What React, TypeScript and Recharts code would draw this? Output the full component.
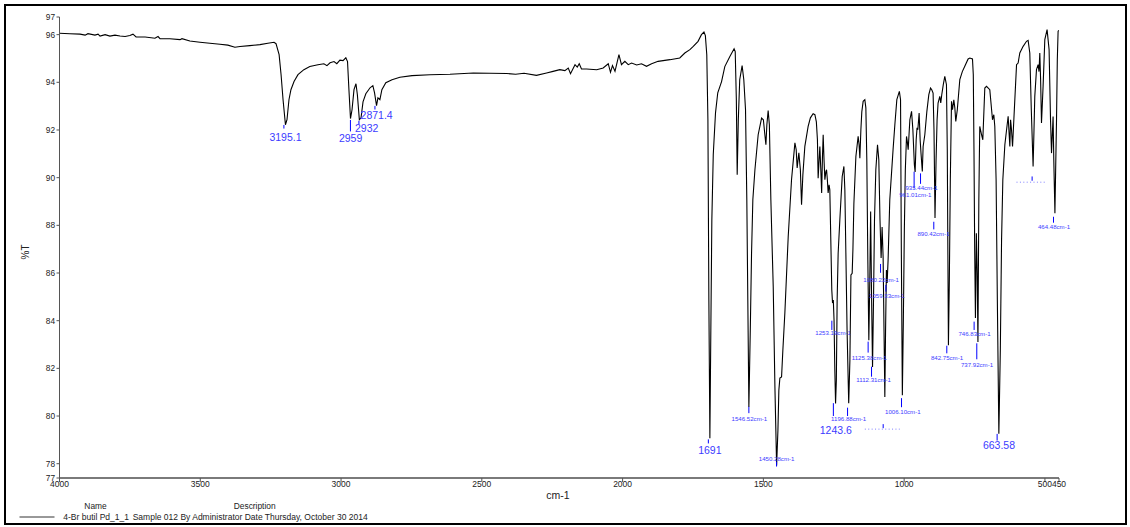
import React from "react";
import { LineChart, Line, XAxis, YAxis, ReferenceLine, ReferenceDot } from "recharts";

const FONT = "'Liberation Sans', Arial, Helvetica, sans-serif";

// wavenumber (cm-1), %T
const highBaseline: [number, number][] = [
  [4000, 96.06], [3963, 96.04], [3927, 96.02], [3909, 95.98], [3899, 96.04], [3874, 95.98], [3863, 96.02],
  [3856, 95.94], [3838, 96.0], [3821, 95.94], [3803, 95.98], [3785, 95.94], [3767, 95.92], [3750, 95.96],
  [3739, 96.02], [3728, 95.9], [3696, 95.9], [3661, 95.85], [3650, 95.92], [3643, 95.83], [3608, 95.83],
  [3572, 95.79], [3565, 95.83], [3537, 95.73], [3501, 95.68], [3466, 95.64], [3430, 95.6], [3402, 95.56],
  [3377, 95.47], [3359, 95.5], [3324, 95.54], [3288, 95.58], [3260, 95.64], [3238, 95.68],
];

const chStretch: [number, number][] = [
  [3231, 95.62], [3220, 95.16], [3213, 94.32], [3206, 93.27], [3197.5, 92.22], [3192, 92.43], [3185, 93.27],
  [3178, 93.69], [3167, 94.03], [3153, 94.32], [3132, 94.53], [3111, 94.66], [3082, 94.74], [3061, 94.78],
  [3050, 94.7], [3039, 94.82], [3025, 94.87], [3015, 94.78], [3004, 94.93], [2993, 94.91], [2983, 95.03],
  [2977, 94.87], [2972, 93.69], [2966.5, 92.48], [2961, 92.85], [2954, 93.69], [2947, 93.94], [2942, 93.48],
  [2935, 92.43], [2929, 92.51], [2922, 93.18], [2912, 93.52], [2897, 93.77], [2887, 93.86], [2881, 93.56],
  [2874, 93.02], [2869, 93.35], [2862, 93.27], [2855, 93.69], [2841, 93.98], [2819, 94.11], [2791, 94.21],
  [2748, 94.28], [2684, 94.32], [2613, 94.34],
];

const midBaseline: [number, number][] = [
  [2530, 94.39], [2412, 94.37], [2380, 94.34], [2350, 94.38], [2306, 94.29], [2270, 94.39], [2247, 94.46],
  [2223, 94.53], [2205, 94.49], [2193, 94.6], [2185, 94.36], [2169, 94.74], [2161, 94.64], [2154, 94.78],
  [2146, 94.56], [2128, 94.56], [2092, 94.53], [2069, 94.6], [2051, 94.78], [2043, 94.42], [2036, 94.7],
  [2027, 94.46], [2013, 95.16], [2004, 94.74], [1992, 94.88], [1980, 94.74], [1968, 94.81], [1950, 94.73],
  [1933, 94.78], [1915, 94.67], [1897, 94.78], [1874, 94.88], [1832, 94.95], [1797, 95.02], [1779, 95.23],
  [1761, 95.37], [1749, 95.51], [1732, 95.72], [1720, 96.0], [1711, 96.11], [1706, 95.96],
];

const carbonylRegion: [number, number][] = [
  [1701, 95.16], [1697, 92.43], [1693.6, 84.87], [1690, 79.07], [1686.6, 83.6], [1683, 88.23], [1678, 90.96],
  [1670, 92.72], [1662, 93.56], [1648.5, 94.03], [1637, 94.66], [1619, 95.08], [1604, 95.41], [1600, 95.29],
  [1596, 93.27], [1593, 90.12], [1589, 92.43], [1584, 94.11], [1575.5, 94.7], [1569.5, 94.11], [1563.4, 92.85],
  [1558.8, 89.07], [1551.5, 80.38], [1546.5, 83.6], [1542, 86.84], [1537.4, 89.07], [1530, 90.33], [1518.5, 91.8],
  [1506.4, 92.5], [1500, 92.43], [1494.7, 91.8], [1491, 91.38], [1487.6, 92.22], [1483, 92.82], [1478.7, 92.22],
  [1473.4, 89.07], [1465, 85.42], [1459, 81.22], [1453, 77.93], [1448.3, 79.4], [1445, 81.08], [1441.4, 81.59],
  [1435.4, 81.64], [1430.8, 82.76], [1423.7, 84.32], [1411.8, 87.52], [1400, 89.91], [1388, 91.46],
  [1383.4, 91.17], [1380, 90.41], [1374, 91.04], [1368.6, 90.33], [1364.4, 88.86], [1359.7, 90.12],
  [1352.7, 91.31], [1341, 92.15], [1333, 92.51], [1323.3, 92.68], [1317, 92.64], [1311.8, 92.34], [1308, 91.59],
  [1305.5, 89.98], [1302, 90.75], [1299.4, 91.31], [1296, 90.33], [1293, 89.36], [1290.4, 90.75], [1287.6, 91.8],
  [1284.6, 90.75], [1281.6, 89.91], [1278, 90.25], [1275.6, 90.33], [1272.7, 89.91], [1270, 89.36],
  [1266.7, 89.7], [1264, 89.49], [1260.5, 87.39], [1257, 85.29], [1254.4, 84.74], [1251.6, 84.87], [1249, 84.03],
  [1246.2, 81.92], [1243.6, 80.53], [1240.8, 81.5], [1238, 84.87], [1234.4, 86.83], [1228.4, 88.23],
  [1220, 90.05], [1214, 90.47], [1210.6, 89.49], [1207, 86.84], [1202.7, 83.6], [1196.9, 80.54],
  [1192.7, 82.34], [1189, 85.92], [1184.6, 85.99], [1182, 86.97], [1178.5, 88.93], [1171.4, 90.89],
];

const fingerprint: [number, number][] = [
  [1163.4, 91.73], [1160, 91.38], [1157.3, 90.82], [1153.7, 92.0], [1150.4, 92.76], [1145.6, 93.2],
  [1139.6, 93.27], [1136, 92.93], [1132.6, 90.75], [1129, 86.55], [1125.4, 83.18], [1122, 85.71], [1119, 88.58],
  [1116, 85.29], [1112.3, 82.06], [1108.8, 84.87], [1105.3, 88.23], [1100.6, 90.33], [1094.6, 91.38],
  [1090, 90.75], [1085.8, 88.23], [1081.8, 86.63], [1078.3, 87.93], [1074.7, 86.67], [1071.5, 83.6],
  [1068.6, 80.8], [1066, 83.6], [1063, 86.13], [1060.4, 85.58], [1057, 86.55], [1051, 89.07], [1039, 91.24],
  [1033, 92.22], [1026, 93.27], [1017, 93.62], [1012.8, 93.27], [1010, 86.97], [1006.4, 80.87], [1002.8, 84.03],
  [999.3, 87.81], [995.8, 90.33], [991.6, 91.73], [988.7, 91.5], [985.7, 91.17], [979.7, 92.43], [973.7, 92.78],
  [969, 92.01], [963.7, 90.54], [961, 90.24], [957.3, 91.59], [954.2, 92.09], [951.4, 92.01], [946.8, 92.71],
  [943.2, 91.59], [940, 91.0], [935.5, 90.26], [932.6, 91.31], [926.6, 91.8], [919.5, 92.76], [912.4, 93.48],
  [906.3, 93.76], [901.9, 93.69], [897.2, 93.55], [894, 92.01], [890.4, 88.31], [886.6, 90.75], [883, 92.43],
  [879.5, 93.13], [873.4, 93.41], [870, 93.14], [866.4, 93.48], [861, 93.9], [855.6, 94.25], [849.7, 93.9],
  [846.8, 91.17], [842.75, 82.97], [839.5, 85.71], [836, 89.91], [831.8, 93.2], [828.3, 92.85], [823.6, 93.27],
  [820, 92.93], [816.6, 92.36], [811.2, 92.85], [802.3, 94.11], [793.4, 94.45], [784.6, 94.67], [772.8, 94.98],
  [766.7, 95.02], [757.3, 94.98], [754.4, 94.32], [752, 91.17], [749.5, 87.0], [746.8, 84.11], [743.5, 87.67],
  [740.5, 86.0], [737.9, 83.11], [734.7, 89.07], [733, 90.75], [731.4, 92.15], [725, 91.8], [720.6, 91.59],
  [713.5, 93.76], [707.5, 93.83], [695.8, 93.69], [686.2, 92.43], [681.5, 92.64], [678, 92.15], [673.4, 89.91],
  [669, 84.87], [663.6, 79.26], [658.4, 82.76], [654, 87.39], [649.5, 89.91], [642.3, 91.38], [636.3, 92.0],
  [630.6, 92.57], [624.6, 91.31], [622, 92.43], [618.6, 92.0], [615, 91.31], [610.4, 92.43], [600.8, 94.74],
  [595.2, 94.81], [589.2, 95.23], [577.4, 95.51], [565.4, 95.72], [559.7, 95.76], [553.7, 95.23], [548.4, 92.85],
  [542, 90.47], [538.8, 92.01], [536, 93.41], [530, 94.53], [524.2, 94.74], [521, 94.45], [518.2, 95.23],
  [515.3, 94.11], [512.2, 92.29], [506.5, 93.83], [500.4, 95.79], [492.3, 96.21], [485.2, 95.37], [480.1, 92.43],
  [476.6, 91.03], [473, 92.01], [471, 92.57], [468.5, 90.75], [464.5, 88.51], [461.3, 90.75], [458.8, 92.43],
  [456, 94.95], [453.2, 96.14], [451, 96.18],
];

const spectrum = [...highBaseline, ...chStretch, ...midBaseline, ...carbonylRegion, ...fingerprint].map(
  ([wn, t]) => ({ wn, t })
);

const xTicks = [4000, 3500, 3000, 2500, 2000, 1500, 1000, 500, 450];
const yTicks = [77.4, 78, 80, 82, 84, 86, 88, 90, 92, 94, 96, 96.74];
const yTickLabels = ["77", "78", "80", "82", "84", "86", "88", "90", "92", "94", "96", "97"];

// peak picks: marker from y1 to y2 at wn, text centred at tx with baseline ty
type Peak = { text: string; big: boolean; wn: number; y1: number; y2: number; tx: number; ty: number };
const peaks: Peak[] = [
  { text: "3195.1", big: true, wn: 3203, y1: 92.21, y2: 92.06, tx: 3197.5, ty: 91.55 },
  { text: "2959", big: true, wn: 2966.7, y1: 92.42, y2: 91.94, tx: 2966, ty: 91.51 },
  { text: "2932", big: true, wn: 2936.5, y1: 92.38, y2: 92.23, tx: 2909, ty: 91.93 },
  { text: "2871.4", big: true, wn: 2879.6, y1: 93.01, y2: 92.86, tx: 2873.6, ty: 92.45 },
  { text: "1691", big: true, wn: 1695.4, y1: 79.02, y2: 78.85, tx: 1690, ty: 78.41 },
  { text: "1546.52cm-1", big: false, wn: 1551.5, y1: 80.39, y2: 80.12, tx: 1549.7, ty: 79.81 },
  { text: "1450.28cm-1", big: false, wn: 1453.2, y1: 78.09, y2: 77.88, tx: 1453, ty: 78.13 },
  { text: "1253.19cm-1", big: false, wn: 1256.8, y1: 84.0, y2: 83.61, tx: 1252.2, ty: 83.39 },
  { text: "1243.6", big: true, wn: 1251.4, y1: 80.54, y2: 80.0, tx: 1242.6, ty: 79.25 },
  { text: "1196.88cm-1", big: false, wn: 1201, y1: 80.35, y2: 80.0, tx: 1197, ty: 79.81 },
  { text: "1125.38cm-1", big: false, wn: 1127.9, y1: 83.12, y2: 82.66, tx: 1123.6, ty: 82.35 },
  { text: "1112.31cm-1", big: false, wn: 1115.8, y1: 82.07, y2: 81.65, tx: 1108.4, ty: 81.41 },
  { text: "1080.22cm-1", big: false, wn: 1083.8, y1: 86.38, y2: 86.01, tx: 1081.7, ty: 85.62 },
  { text: "1059.33cm-1", big: false, wn: 1064.9, y1: 85.5, y2: 85.22, tx: 1061.4, ty: 84.97 },
  { text: "1006.10cm-1", big: false, wn: 1009.3, y1: 80.75, y2: 80.37, tx: 1004.7, ty: 80.1 },
  { text: "935.44cm-1", big: false, wn: 941.8, y1: 90.18, y2: 89.74, tx: 938.3, ty: 89.5 },
  { text: "961.01cm-1", big: false, wn: 964.6, y1: 90.25, y2: 89.55, tx: 960.3, ty: 89.2 },
  { text: "890.42cm-1", big: false, wn: 894.7, y1: 88.15, y2: 87.83, tx: 895.6, ty: 87.55 },
  { text: "842.75cm-1", big: false, wn: 848.5, y1: 82.95, y2: 82.63, tx: 847.8, ty: 82.35 },
  { text: "746.83cm-1", big: false, wn: 751.5, y1: 83.96, y2: 83.61, tx: 750, ty: 83.37 },
  { text: "737.92cm-1", big: false, wn: 742, y1: 83.05, y2: 82.38, tx: 741.2, ty: 82.07 },
  { text: "663.58", big: true, wn: 669.8, y1: 79.25, y2: 78.97, tx: 663.1, ty: 78.61 },
  { text: "464.48cm-1", big: false, wn: 469.5, y1: 88.36, y2: 88.11, tx: 467.8, ty: 87.85 },
];

// unreadable overlapping picks, drawn as dotted runs
const dottedPicks = [
  { from: 1139.6, to: 1015.6, y: 79.45, mark: 1074.5, m1: 79.66, m2: 79.49 },
  { from: 600.9, to: 492.2, y: 89.81, mark: 545.5, m1: 90.05, m2: 89.87 },
];

export default function App() {
  return (
    <div
      style={{
        position: "absolute",
        left: 0,
        top: 0,
        width: 1130,
        height: 527,
        background: "#fff",
        fontFamily: FONT,
        overflow: "hidden",
      }}
    >
      <LineChart width={1130} height={527} data={spectrum} margin={{ top: 17, right: 71, bottom: 19, left: 9.5 }}>
        <XAxis
          type="number"
          dataKey="wn"
          domain={[450, 4000]}
          reversed
          allowDataOverflow
          ticks={xTicks}
          interval={0}
          height={30}
          axisLine={{ stroke: "#7a7a7a", strokeWidth: 2 }}
          tickLine={{ stroke: "#555" }}
          tickSize={4}
          tickMargin={-1.2}
          tick={{ fontSize: 8.5, fill: "#222" }}
        />
        <YAxis
          type="number"
          domain={[77.4, 96.74]}
          allowDataOverflow
          ticks={yTicks}
          interval={0}
          width={50}
          axisLine={{ stroke: "#555" }}
          tickLine={{ stroke: "#555" }}
          tickSize={3}
          tickMargin={1.5}
          tick={{ fontSize: 8.3, fill: "#222" }}
          tickFormatter={(v: number) => yTickLabels[yTicks.indexOf(v)] ?? String(v)}
        />
        <Line
          type="linear"
          dataKey="t"
          stroke="#000"
          strokeWidth={1.1}
          dot={false}
          activeDot={false}
          isAnimationActive={false}
        />
        {peaks.map((p) => (
          <ReferenceLine
            key={"m" + p.text}
            segment={[{ x: p.wn, y: p.y1 }, { x: p.wn, y: p.y2 }]}
            stroke="#0000ff"
            strokeWidth={1}
          />
        ))}
        {peaks.map((p) => (
          <ReferenceDot
            key={"t" + p.text}
            x={p.tx}
            y={p.ty}
            r={0}
            shape={(d: any) => (
              <text
                x={d.cx}
                y={d.cy}
                textAnchor="middle"
                fontSize={p.big ? 10.5 : 6.1}
                fill="#3c3cff"
                fontFamily={FONT}
              >
                {p.text}
              </text>
            )}
          />
        ))}
        {dottedPicks.map((d, i) => (
          <ReferenceLine
            key={"d" + i}
            segment={[{ x: d.from, y: d.y }, { x: d.to, y: d.y }]}
            stroke="#6060ff"
            strokeWidth={0.8}
            strokeDasharray="1 2.4"
          />
        ))}
        {dottedPicks.map((d, i) => (
          <ReferenceLine
            key={"dm" + i}
            segment={[{ x: d.mark, y: d.m1 }, { x: d.mark, y: d.m2 }]}
            stroke="#0000ff"
            strokeWidth={1}
          />
        ))}
      </LineChart>

      <svg
        width={1130}
        height={527}
        style={{ position: "absolute", left: 0, top: 0, pointerEvents: "none" }}
        fontFamily={FONT}
      >
        <text x={25} y={252} fontSize={10} fill="#222" textAnchor="middle" dominantBaseline="central" transform="rotate(-90 25 252)">
          %T
        </text>
        <text x={558} y={499} fontSize={10.5} fill="#222" textAnchor="middle">
          cm-1
        </text>
        <text x={95.5} y={508.5} fontSize={8.4} fill="#222" textAnchor="middle">
          Name
        </text>
        <text x={254.7} y={508.5} fontSize={8.4} fill="#222" textAnchor="middle">
          Description
        </text>
        <line x1={19.5} y1={517} x2={54.5} y2={517} stroke="#333" strokeWidth={1} />
        <text x={63.3} y={520} fontSize={8.5} fill="#222">
          4-Br butil Pd_1_1
        </text>
        <text x={132.7} y={520} fontSize={8.5} fill="#222">
          Sample 012 By Administrator Date Thursday, October 30 2014
        </text>
      </svg>

      <div
        style={{
          position: "absolute",
          left: 4,
          top: 4,
          width: 1123,
          height: 521,
          border: "2px solid #000",
          boxSizing: "border-box",
          pointerEvents: "none",
        }}
      />
    </div>
  );
}
